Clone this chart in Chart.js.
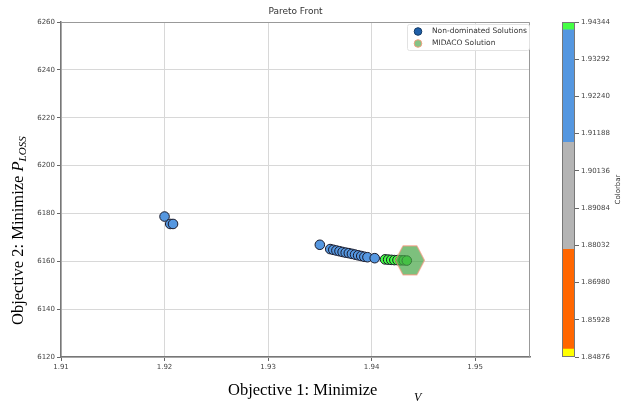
<!DOCTYPE html>
<html>
<head>
<meta charset="utf-8">
<script src="https://cdn.jsdelivr.net/npm/chart.js@4"></script>
<style>
html, body { margin: 0; padding: 0; background: #fff; }
#wrap { position: relative; width: 624px; height: 407px; }
#main { position: absolute; left: 0; top: 0; }
#cbar { position: absolute; left: 540px; top: 0; }
</style>
</head>
<body>
<div id="wrap">
  <canvas id="main" width="624" height="407"></canvas>
  <canvas id="cbar" width="84" height="407"></canvas>
</div>
<script>
// pareto front points (objective 1, objective 2)
const paretoX = [1.9200, 1.92055, 1.92082,
    1.9350, 1.9360, 1.9363, 1.9366, 1.9369, 1.9372, 1.9375, 1.9378, 1.9381, 1.9384, 1.9387, 1.9390, 1.9393, 1.9396, 1.9403,
    1.9413, 1.9416, 1.9419, 1.9422, 1.9425, 1.9428, 1.9431, 1.9434];
const paretoY = [6178.7, 6175.6, 6175.6,
    6166.9, 6165.1, 6164.8, 6164.5, 6164.2, 6163.9, 6163.6, 6163.4, 6163.1, 6162.8, 6162.5, 6162.2, 6161.9, 6161.7, 6161.3,
    6160.8, 6160.7, 6160.6, 6160.5, 6160.5, 6160.4, 6160.4, 6160.3];
const midacoX = [1.9437];
const midacoY = [6160.4];

const xTicks = [1.91, 1.92, 1.93, 1.94, 1.95];
const yTicks = [6120, 6140, 6160, 6180, 6200, 6220, 6240, 6260];

// colorbar
const cbarTicks = [1.84876, 1.85928, 1.86980, 1.88032, 1.89084, 1.90136, 1.91188, 1.92240, 1.93292, 1.94344];
const cbarBounds = [1.84876, 1.8510, 1.8792, 1.9094, 1.9412, 1.94344];
const cbarColors = ['#ffff00', '#ff6600', '#b4b4b4', '#5597e0', '#44ff44'];

function colorFor(v) {
    for (let i = 0; i < cbarColors.length; i++) {
        if (v < cbarBounds[i + 1]) return cbarColors[i];
    }
    return cbarColors[cbarColors.length - 1];
}

// hexagon marker for the MIDACO point
const hex = document.createElement('canvas');
hex.width = 32; hex.height = 32;
(function () {
    const c = hex.getContext('2d');
    c.beginPath();
    c.moveTo(1.5, 16);
    c.lineTo(9, 1.5);
    c.lineTo(23, 1.5);
    c.lineTo(30.5, 16);
    c.lineTo(23, 30.5);
    c.lineTo(9, 30.5);
    c.closePath();
    c.fillStyle = 'rgba(70,165,70,0.7)';
    c.fill();
    c.strokeStyle = '#f39a80';
    c.lineWidth = 1;
    c.stroke();
})();

const serif = '"Liberation Serif", "Times New Roman", serif';
const sans = '"DejaVu Sans", sans-serif';

const decor = {
    id: 'decor',
    afterDraw(chart) {
        const ctx = chart.ctx;
        const a = chart.chartArea;
        ctx.save();
        // frame top/right
        ctx.strokeStyle = '#999';
        ctx.lineWidth = 1;
        ctx.beginPath();
        ctx.moveTo(a.left, a.top + 0.5);
        ctx.lineTo(a.right - 0.5, a.top + 0.5);
        ctx.lineTo(a.right - 0.5, a.bottom);
        ctx.stroke();

        // title
        ctx.fillStyle = '#333';
        ctx.font = '9px ' + sans;
        ctx.textAlign = 'center';
        ctx.textBaseline = 'middle';
        ctx.fillText('Pareto Front', (a.left + a.right) / 2, 12);

        // legend
        const lx = 407, ly = 24, lw = 122, lh = 26;
        ctx.fillStyle = 'rgba(255,255,255,0.85)';
        ctx.strokeStyle = '#e2e2e2';
        ctx.beginPath();
        ctx.roundRect(lx + 0.5, ly + 0.5, lw, lh, 2);
        ctx.fill();
        ctx.stroke();
        ctx.lineWidth = 1;
        ctx.beginPath();
        ctx.arc(418, 31.5, 3.8, 0, Math.PI * 2);
        ctx.fillStyle = '#1f5fa8';
        ctx.fill();
        ctx.strokeStyle = '#123a66';
        ctx.stroke();
        ctx.beginPath();
        ctx.arc(418, 43.5, 3.8, 0, Math.PI * 2);
        ctx.fillStyle = '#86c386';
        ctx.fill();
        ctx.strokeStyle = '#f0a080';
        ctx.stroke();
        ctx.fillStyle = '#333';
        ctx.font = '7.5px ' + sans;
        ctx.textAlign = 'left';
        ctx.fillText('Non-dominated Solutions', 432, 31.5);
        ctx.fillText('MIDACO Solution', 432, 43.5);

        // x axis title
        ctx.fillStyle = '#000';
        ctx.textBaseline = 'alphabetic';
        ctx.font = '16.5px ' + serif;
        ctx.fillText('Objective 1: Minimize', 228, 395);
        ctx.font = 'italic 12px ' + serif;
        ctx.fillText('V', 414, 401);

        // y axis title
        ctx.translate(23, 325);
        ctx.rotate(-Math.PI / 2);
        ctx.font = '16.5px ' + serif;
        const t1 = 'Objective 2: Minimize ';
        ctx.fillText(t1, 0, 0);
        let w = ctx.measureText(t1).width;
        ctx.font = 'italic 16.5px ' + serif;
        ctx.fillText('P', w, 0);
        w += ctx.measureText('P').width;
        ctx.font = 'italic 11px ' + serif;
        ctx.fillText('LOSS', w, 3);
        ctx.restore();
    }
};

new Chart(document.getElementById('main'), {
    type: 'scatter',
    data: {
        datasets: [{
            label: 'Non-dominated Solutions',
            data: paretoX.map((x, i) => ({ x: x, y: paretoY[i] })),
            backgroundColor: ctx => colorFor(ctx.raw ? ctx.raw.x : 0),
            borderColor: '#1a1a2a',
            borderWidth: 1,
            pointRadius: 4.8,
            order: 1
        }, {
            label: 'MIDACO Solution',
            data: midacoX.map((x, i) => ({ x: x, y: midacoY[i] })),
            pointStyle: hex,
            pointRadius: 16,
            order: 0
        }]
    },
    options: {
        responsive: false,
        animation: false,
        layout: { padding: { left: 0, right: 94, top: 22, bottom: 0 } },
        plugins: {
            legend: { display: false },
            title: { display: false },
            tooltip: { enabled: false }
        },
        scales: {
            x: {
                type: 'linear',
                min: 1.91,
                max: 1.9553,
                afterBuildTicks: s => { s.ticks = xTicks.map(v => ({ value: v })); },
                afterFit: s => { s.height = 50; },
                ticks: {
                    callback: v => v.toFixed(2),
                    color: '#444',
                    font: { family: 'DejaVu Sans', size: 7 },
                    padding: 2,
                    maxRotation: 0
                },
                grid: { color: '#d8d8d8', tickColor: '#666', tickLength: 4 },
                border: { color: '#777', width: 1.5 }
            },
            y: {
                min: 6120,
                max: 6260,
                afterBuildTicks: s => { s.ticks = yTicks.map(v => ({ value: v })); },
                afterFit: s => { s.width = 61; },
                ticks: {
                    callback: v => String(v),
                    color: '#444',
                    font: { family: 'DejaVu Sans', size: 7 },
                    padding: 2
                },
                grid: { color: '#d8d8d8', tickColor: '#666', tickLength: 4 },
                border: { color: '#777', width: 1.5 }
            }
        }
    },
    plugins: [decor]
});

const cbarDecor = {
    id: 'cbarDecor',
    afterDraw(chart) {
        const ctx = chart.ctx;
        const a = chart.chartArea;
        ctx.save();
        ctx.strokeStyle = '#777';
        ctx.lineWidth = 1;
        ctx.strokeRect(a.left + 0.5, a.top + 0.5, a.right - a.left - 1, a.bottom - a.top - 1);
        ctx.fillStyle = '#333';
        ctx.font = '7px ' + sans;
        ctx.textAlign = 'center';
        ctx.textBaseline = 'middle';
        ctx.translate(78, (a.top + a.bottom) / 2);
        ctx.rotate(-Math.PI / 2);
        ctx.fillText('Colorbar', 0, 0);
        ctx.restore();
    }
};

new Chart(document.getElementById('cbar'), {
    type: 'bar',
    data: {
        labels: [''],
        datasets: cbarColors.map((c, i) => ({
            data: [[cbarBounds[i], cbarBounds[i + 1]]],
            backgroundColor: c,
            borderWidth: 0,
            barPercentage: 1,
            categoryPercentage: 1
        }))
    },
    options: {
        responsive: false,
        animation: false,
        layout: { padding: { left: 22, right: 0, top: 22, bottom: 50 } },
        plugins: {
            legend: { display: false },
            tooltip: { enabled: false }
        },
        scales: {
            x: { display: false, stacked: true },
            y: {
                position: 'right',
                min: cbarTicks[0],
                max: cbarTicks[cbarTicks.length - 1],
                afterBuildTicks: s => { s.ticks = cbarTicks.map(v => ({ value: v })); },
                afterFit: s => { s.width = 49; },
                ticks: {
                    callback: v => v.toFixed(5),
                    color: '#444',
                    font: { family: 'DejaVu Sans', size: 7 },
                    padding: 2
                },
                grid: { drawOnChartArea: false, tickColor: '#666', tickLength: 4 },
                border: { display: false }
            }
        }
    },
    plugins: [cbarDecor]
});
</script>
</body>
</html>
